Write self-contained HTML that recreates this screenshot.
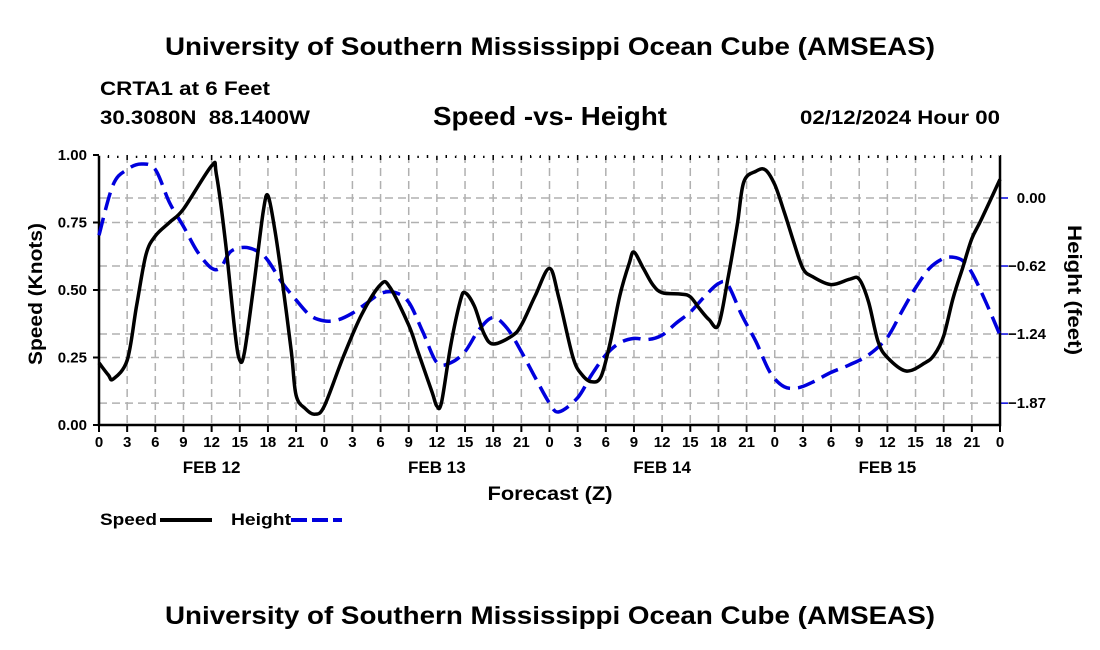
<!DOCTYPE html>
<html><head><meta charset="utf-8">
<style>
body{margin:0;background:#fff;}
svg{display:block;font-family:"Liberation Sans",Arial,sans-serif;font-weight:bold;}
</style></head>
<body>
<svg id="chart" width="1100" height="650" viewBox="0 0 1100 650">
<text x="550" y="55" font-size="25" text-anchor="middle" textLength="770" lengthAdjust="spacingAndGlyphs">University of Southern Mississippi Ocean Cube (AMSEAS)</text>
<text x="100" y="95" font-size="19" textLength="170" lengthAdjust="spacingAndGlyphs">CRTA1 at 6 Feet</text>
<text x="100" y="124" font-size="19" textLength="210" lengthAdjust="spacingAndGlyphs" xml:space="preserve">30.3080N  88.1400W</text>
<text x="550" y="125" font-size="26" text-anchor="middle" textLength="234" lengthAdjust="spacingAndGlyphs">Speed -vs- Height</text>
<text x="1000" y="124" font-size="19" text-anchor="end" textLength="200" lengthAdjust="spacingAndGlyphs">02/12/2024 Hour 00</text>
<g id="grid"></g>
<g id="axes"></g>
<g id="series"></g>
<text transform="translate(42,294) rotate(-90)" font-size="19" text-anchor="middle" textLength="142" lengthAdjust="spacingAndGlyphs">Speed (Knots)</text>
<text transform="translate(1068,290) rotate(90)" font-size="19" text-anchor="middle" textLength="130" lengthAdjust="spacingAndGlyphs">Height (feet)</text>
<text x="550" y="500" font-size="19" text-anchor="middle" textLength="125" lengthAdjust="spacingAndGlyphs">Forecast (Z)</text>
<g>
<text x="100" y="525" font-size="17" textLength="57" lengthAdjust="spacingAndGlyphs">Speed</text>
<line x1="160" y1="520" x2="212" y2="520" stroke="#000" stroke-width="4"/>
<text x="231" y="525" font-size="17" textLength="60" lengthAdjust="spacingAndGlyphs">Height</text>
<line x1="291" y1="520" x2="342" y2="520" stroke="#0000dd" stroke-width="4" stroke-dasharray="16,5"/>
</g>
<text x="550" y="624" font-size="25" text-anchor="middle" textLength="770" lengthAdjust="spacingAndGlyphs">University of Southern Mississippi Ocean Cube (AMSEAS)</text>
</svg>
<script>
const speedHours=[0,1,1.5,3,4,5,6,7.5,9,12,12.5,13.5,14.5,15,15.5,16.5,17.5,18,18.7,19.5,20.5,21,22,23,24,26,28,30,31,33,34,35.5,36,36.5,37.5,38.5,39,40,41,42,44,45,46.5,48,49,50.5,51.5,52.5,53.5,54.5,55.5,56.5,57,58,59,60,62,63,64,65,66,67,68,68.7,70,71,72,73,74,75,76,78,80,81,82,83,84,86,88,89,90,91,92,93,94,96];
const speedValues=[0.23,0.185,0.17,0.24,0.44,0.63,0.70,0.75,0.80,0.96,0.93,0.67,0.34,0.24,0.27,0.52,0.79,0.85,0.73,0.54,0.27,0.11,0.06,0.04,0.07,0.25,0.41,0.52,0.51,0.37,0.27,0.12,0.07,0.085,0.30,0.46,0.49,0.44,0.34,0.30,0.33,0.37,0.48,0.58,0.47,0.25,0.185,0.16,0.18,0.31,0.48,0.60,0.64,0.58,0.52,0.49,0.485,0.475,0.43,0.39,0.37,0.54,0.74,0.90,0.94,0.945,0.89,0.79,0.68,0.58,0.55,0.52,0.54,0.54,0.455,0.31,0.25,0.20,0.23,0.26,0.33,0.47,0.58,0.69,0.76,0.91];
const heightHours=[0,1.5,3,4.5,6,7.5,9,10.5,12,13,14,15.5,17,18,19.5,21,22.5,24,25.5,27,28.5,30,31.5,33,34.5,36,37.5,39,40.5,42,43.5,45,46.5,48,49,51,52.5,54,55.5,57,58.5,60,61.5,63,64.5,66,67,68.5,70,71.5,73,74.5,76,78,80,82,84,85.5,87,88.5,90,91,92,93,94.5,96];
const heightValues=[-0.34,0.12,0.26,0.31,0.26,-0.04,-0.26,-0.49,-0.64,-0.63,-0.49,-0.45,-0.49,-0.57,-0.77,-0.93,-1.07,-1.12,-1.11,-1.05,-0.96,-0.87,-0.86,-0.95,-1.22,-1.50,-1.50,-1.40,-1.20,-1.09,-1.19,-1.40,-1.64,-1.87,-1.95,-1.82,-1.61,-1.43,-1.32,-1.28,-1.29,-1.25,-1.14,-1.04,-0.90,-0.78,-0.79,-1.07,-1.31,-1.59,-1.72,-1.73,-1.68,-1.59,-1.52,-1.43,-1.27,-1.04,-0.82,-0.64,-0.55,-0.54,-0.57,-0.68,-0.95,-1.25];
const speedTicks=[0,0.25,0.5,0.75,1.0];
const heightTicks=[0,-0.62,-1.24,-1.87];
const xTickLabels=["0","3","6","9","12","15","18","21","0","3","6","9","12","15","18","21","0","3","6","9","12","15","18","21","0","3","6","9","12","15","18","21","0"];
const dayLabels=["FEB 12","FEB 13","FEB 14","FEB 15"];

const L=99,R=1000,T=155,B=425;
const X=h=>L+h*(R-L)/96;
const YS=v=>B-v*(B-T);
const YH=v=>198-v*109.7;
const NS="http://www.w3.org/2000/svg";
function mk(tag,parent,attrs){const e=document.createElementNS(NS,tag);for(const k in attrs)e.setAttribute(k,attrs[k]);parent.appendChild(e);return e;}
const gridG=document.getElementById('grid'),axesG=document.getElementById('axes'),seriesG=document.getElementById('series');

xTickLabels.forEach((lab,i)=>{
  const x=X(i*3);
  if(i>0&&i<32){const g=mk('line',gridG,{x1:x,y1:T,x2:x,y2:B,stroke:'#b0b0b0','stroke-width':1.5,'stroke-dasharray':'8,5'});
  
  }
  const t=mk('line',axesG,{x1:x,y1:B,x2:x,y2:B+7,stroke:'#000','stroke-width':2});
  
  
  const tt=mk('line',axesG,{x1:x,y1:T,x2:x,y2:T+5,stroke:'#000','stroke-width':1.5});
  
  
  const tx=mk('text',axesG,{x:x,y:B+22,'font-size':15,'text-anchor':'middle'});tx.textContent=lab;
  
  
});
for(let h=1;h<96;h++){if(h%3){const m=mk('line',axesG,{x1:X(h),y1:T,x2:X(h),y2:T+3,stroke:'#000','stroke-width':1.5});

}}
dayLabels.forEach((d,i)=>{const tx=mk('text',axesG,{x:X(12+24*i),y:473,'font-size':17,'text-anchor':'middle'});tx.textContent=d;

});

speedTicks.forEach(v=>{const y=YS(v);
  if(v>0&&v<1){const g=mk('line',gridG,{x1:L,y1:y,x2:R,y2:y,stroke:'#b0b0b0','stroke-width':1.5,'stroke-dasharray':'8,5'});
  
  }
  const t=mk('line',axesG,{x1:L-6,y1:y,x2:L,y2:y,stroke:'#000','stroke-width':2});
  
  
  const tx=mk('text',axesG,{x:L-12,y:y+5,'font-size':15,'text-anchor':'end'});tx.textContent=v.toFixed(2);
  
  
});
heightTicks.forEach(v=>{const y=YH(v);
  const g=mk('line',gridG,{x1:L,y1:y,x2:R,y2:y,stroke:'#b0b0b0','stroke-width':1.5,'stroke-dasharray':'8,5'});
  
  
  const t=mk('line',axesG,{x1:R,y1:y,x2:R+8,y2:y,stroke:'#0000dd','stroke-width':1.5});
  
  
  const tx=mk('text',axesG,{x:1046,y:y+5,'font-size':15,'text-anchor':'end'});tx.textContent=v.toFixed(2).replace('-','\u2212');
  
  
});
const frame=mk('path',axesG,{d:`M${L},${T}V${B}H${R}V${T}`,fill:'none',stroke:'#000','stroke-width':2.5});


const topBorder=mk('line',axesG,{x1:L,y1:T,x2:R,y2:T,stroke:'#fff','stroke-width':1.5,'stroke-dasharray':'3,3'});



function spline(xs,ys){const p=xs.map((x,i)=>[x,ys[i]]);let d=`M${p[0][0]},${p[0][1]}`;
  for(let i=0;i<p.length-1;i++){const p0=p[Math.max(0,i-1)],p1=p[i],p2=p[i+1],p3=p[Math.min(p.length-1,i+2)];
    const c1=[p1[0]+(p2[0]-p0[0])/6,p1[1]+(p2[1]-p0[1])/6],c2=[p2[0]-(p3[0]-p1[0])/6,p2[1]-(p3[1]-p1[1])/6];
    d+=`C${c1[0].toFixed(1)},${c1[1].toFixed(1)} ${c2[0].toFixed(1)},${c2[1].toFixed(1)} ${p2[0].toFixed(1)},${p2[1].toFixed(1)}`;}
  return d;}
const hl=mk('path',seriesG,{d:spline(heightHours.map(X),heightValues.map(YH)),fill:'none',stroke:'#0000dd','stroke-width':3.5,'stroke-dasharray':'18,8'});


const sl=mk('path',seriesG,{d:spline(speedHours.map(X),speedValues.map(YS)),fill:'none',stroke:'#000','stroke-width':3.5,'stroke-linejoin':'round'});


</script>
</body></html>
